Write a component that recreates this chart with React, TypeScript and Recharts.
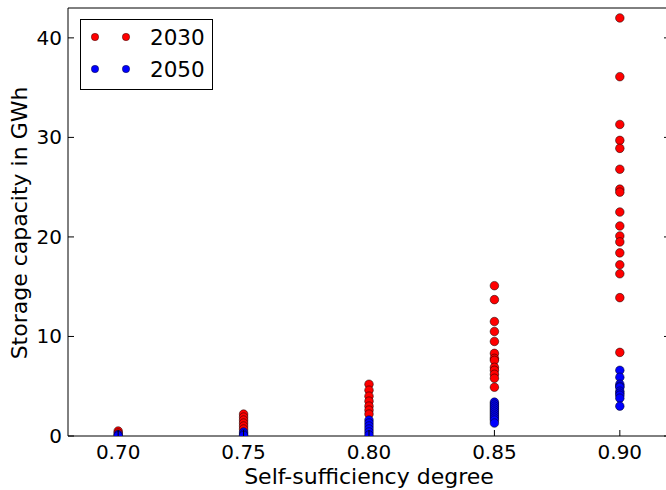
import { ScatterChart, Scatter, XAxis, YAxis } from "recharts";

// self-sufficiency levels and storage capacity (GWh) per level
const levels = [0.7, 0.75, 0.8, 0.85, 0.9];
const cap2030 = [
  [0.5, 0.3],
  [2.2, 1.9, 1.6, 1.3, 1.0, 0.7],
  [5.2, 4.6, 4.0, 3.5, 3.0, 2.6, 2.2],
  [15.1, 13.7, 11.5, 10.5, 9.5, 8.3, 7.8, 7.6, 6.9, 6.6, 6.2, 5.8, 4.9],
  [42.0, 36.1, 31.3, 29.7, 28.9, 26.8, 24.8, 24.5, 22.5, 21.1, 20.1, 19.5, 18.4, 17.2, 16.3, 13.9, 8.4],
];
const cap2050 = [
  [0.15, 0.02],
  [0.4, 0.2, 0.05],
  [1.6, 1.3, 1.0, 0.7, 0.4, 0.1],
  [3.4, 3.2, 3.0, 2.8, 2.6, 2.4, 2.2, 2.0, 1.8, 1.6, 1.3],
  [6.6, 5.9, 5.2, 5.0, 4.9, 4.5, 4.3, 4.1, 3.8, 3.0],
];
const xTicks = [0.7, 0.75, 0.8, 0.85, 0.9];
const yTicks = [0, 10, 20, 30, 40];
const series = [
  { name: "2030", color: "#ff0000", values: cap2030 },
  { name: "2050", color: "#0000ff", values: cap2050 },
];

const toPoints = (groups: number[][]) =>
  groups.flatMap((vals, i) => vals.map((v) => ({ x: levels[i], y: v })));

const FONT = "'DejaVu Sans', sans-serif";
const TICK = 6;

const Dot = (color: string) => (p: any) =>
  <circle cx={p.cx} cy={p.cy} r={4.3} fill={color} stroke="#000" strokeWidth={0.5} />;

const BottomTick = (p: any) => (
  <g>
    <line x1={p.x} y1={p.y} x2={p.x} y2={p.y - TICK} stroke="#000" />
    <text x={p.x} y={p.y + 23} textAnchor="middle" fontSize={20} fontFamily={FONT} fill="#000">
      {Number(p.payload.value).toFixed(2)}
    </text>
  </g>
);
const LeftTick = (p: any) => (
  <g>
    <line x1={p.x} y1={p.y} x2={p.x + TICK} y2={p.y} stroke="#000" />
    <text x={p.x - 6} y={p.y + 7} textAnchor="end" fontSize={20} fontFamily={FONT} fill="#000">
      {p.payload.value}
    </text>
  </g>
);
const TopTick = (p: any) => <line x1={p.x} y1={p.y} x2={p.x} y2={p.y + TICK} stroke="#000" />;
const RightTick = (p: any) => <line x1={p.x} y1={p.y} x2={p.x - TICK} y2={p.y} stroke="#000" />;

const XLabel = () => (
  <text x={369} y={484} textAnchor="middle" fontSize={22} fontFamily={FONT} fill="#000">
    Self-sufficiency degree
  </text>
);
const YLabel = () => (
  <text
    x={0}
    y={0}
    transform="translate(27 223) rotate(-90)"
    textAnchor="middle"
    fontSize={22}
    fontFamily={FONT}
    fill="#000"
  >
    Storage capacity in GWh
  </text>
);

const LegendBox = () => (
  <svg
    width={134}
    height={72}
    style={{ position: "absolute", left: 80, top: 19, display: "block" }}
  >
    <rect x={0.5} y={0.5} width={132} height={70} fill="#fff" stroke="#000" />
    {series.map((s, i) => {
      const y = 18 + i * 32;
      return (
        <g key={s.name}>
          <circle cx={15} cy={y} r={3.7} fill={s.color} stroke="#000" strokeWidth={0.4} />
          <circle cx={46} cy={y} r={3.7} fill={s.color} stroke="#000" strokeWidth={0.4} />
          <text x={70} y={y + 8} fontSize={21.5} fontFamily={FONT} fill="#000">
            {s.name}
          </text>
        </g>
      );
    })}
  </svg>
);

export default function App() {
  return (
    <div
      style={{
        position: "fixed",
        left: 0,
        top: 0,
        width: 666,
        height: 490,
        overflow: "hidden",
        background: "#fff",
        fontFamily: FONT,
      }}
    >
      <ScatterChart width={680} height={490} margin={{ top: 0, right: 0, bottom: 0, left: 0 }}>
        <XAxis
          type="number"
          dataKey="x"
          domain={[0.68, 0.92]}
          ticks={xTicks}
          height={54}
          tickSize={0}
          tickMargin={0}
          tickLine={false}
          stroke="#000"
          tick={BottomTick}
          interval={0}
          allowDataOverflow
          label={{ content: XLabel }}
        />
        <XAxis
          xAxisId="t"
          orientation="top"
          type="number"
          domain={[0.68, 0.92]}
          ticks={xTicks}
          height={8}
          tickSize={0}
          tickMargin={0}
          tickLine={false}
          stroke="#000"
          tick={TopTick}
          interval={0}
          allowDataOverflow
        />
        <YAxis
          type="number"
          dataKey="y"
          domain={[0, 43]}
          ticks={yTicks}
          width={68}
          tickSize={0}
          tickMargin={0}
          tickLine={false}
          stroke="#000"
          tick={LeftTick}
          interval={0}
          allowDataOverflow
          label={{ content: YLabel }}
        />
        <YAxis
          yAxisId="r"
          orientation="right"
          type="number"
          domain={[0, 43]}
          ticks={yTicks}
          width={10}
          tickSize={0}
          tickMargin={0}
          tickLine={false}
          stroke="#000"
          tick={RightTick}
          interval={0}
          allowDataOverflow
        />
        {series.map((s) => (
          <Scatter
            key={s.name}
            name={s.name}
            data={toPoints(s.values)}
            shape={Dot(s.color)}
            isAnimationActive={false}
          />
        ))}
      </ScatterChart>
      <LegendBox />
    </div>
  );
}
